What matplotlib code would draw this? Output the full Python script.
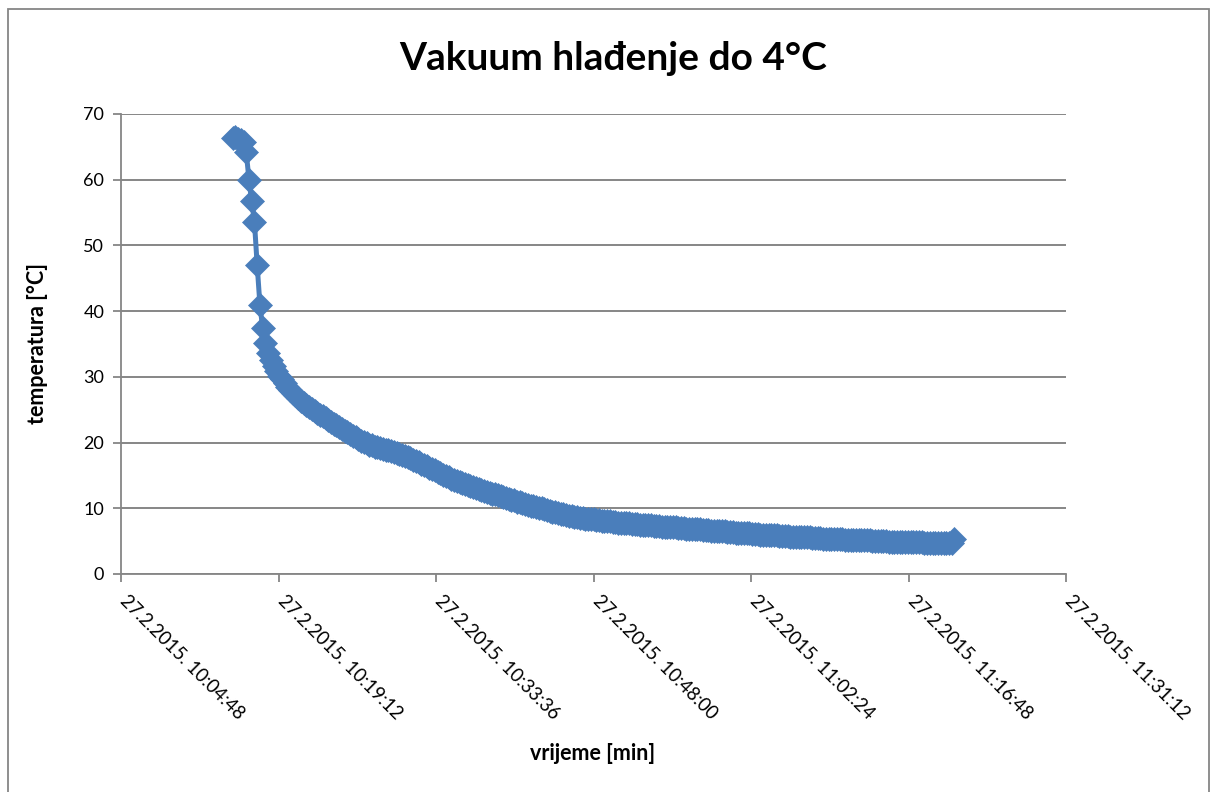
import matplotlib
matplotlib.use("Agg")
import matplotlib.pyplot as plt
import matplotlib.dates as mdates
from matplotlib.patches import Rectangle
from matplotlib.transforms import ScaledTranslation
import pandas as pd

# ---------------- data ----------------
start_time = "2015-02-27 10:15:00"
sample_interval_s = 15
temperature_c = [
    66.4, 66.5, 66.2, 66.1, 65.7, 64.2, 60.0, 56.7, 53.6, 47.0,
    41.0, 37.4, 35.2, 33.7, 32.6, 31.7, 30.9, 30.2, 29.6, 29.0,
    28.5, 28.0, 27.6, 27.2, 26.8, 26.4, 26.0, 25.7, 25.4, 25.1,
    24.8, 24.5, 24.2, 24.0, 23.7, 23.4, 23.2, 22.9, 22.6, 22.4,
    22.1, 21.8, 21.6, 21.3, 21.0, 20.8, 20.5, 20.3, 20.1, 19.9,
    19.7, 19.6, 19.4, 19.3, 19.2, 19.0, 18.9, 18.8, 18.7, 18.6,
    18.4, 18.3, 18.1, 18.0, 17.8, 17.6, 17.4, 17.2, 17.0, 16.8,
    16.6, 16.4, 16.2, 16.0, 15.8, 15.5, 15.3, 15.1, 14.9, 14.7,
    14.5, 14.3, 14.2, 14.0, 13.8, 13.7, 13.5, 13.4, 13.2, 13.1,
    12.9, 12.8, 12.6, 12.5, 12.4, 12.2, 12.1, 12.0, 11.8, 11.7,
    11.6, 11.4, 11.3, 11.2, 11.0, 10.9, 10.8, 10.6, 10.5, 10.4,
    10.3, 10.2, 10.1, 10.0, 9.9, 9.8, 9.6, 9.5, 9.4, 9.3,
    9.2, 9.1, 9.0, 8.9, 8.8, 8.7, 8.6, 8.5, 8.5, 8.4,
    8.4, 8.3, 8.3, 8.2, 8.2, 8.1, 8.1, 8.0, 8.0, 7.9,
    7.9, 7.8, 7.8, 7.8, 7.7, 7.7, 7.6, 7.6, 7.6, 7.5,
    7.5, 7.4, 7.4, 7.4, 7.3, 7.3, 7.3, 7.2, 7.2, 7.2,
    7.1, 7.1, 7.1, 7.0, 7.0, 7.0, 6.9, 6.9, 6.9, 6.8,
    6.8, 6.8, 6.7, 6.7, 6.7, 6.6, 6.6, 6.6, 6.5, 6.5,
    6.5, 6.4, 6.4, 6.4, 6.3, 6.3, 6.3, 6.2, 6.2, 6.2,
    6.1, 6.1, 6.1, 6.0, 6.0, 6.0, 6.0, 5.9, 5.9, 5.9,
    5.8, 5.8, 5.8, 5.8, 5.7, 5.7, 5.7, 5.7, 5.6, 5.6,
    5.6, 5.6, 5.5, 5.5, 5.5, 5.5, 5.4, 5.4, 5.4, 5.4,
    5.3, 5.3, 5.3, 5.3, 5.2, 5.2, 5.2, 5.2, 5.2, 5.1,
    5.1, 5.1, 5.1, 5.1, 5.0, 5.0, 5.0, 5.0, 5.0, 5.0,
    4.9, 4.9, 4.9, 4.9, 4.9, 4.9, 4.8, 4.8, 4.8, 4.8,
    4.8, 4.8, 4.8, 4.7, 4.7, 4.7, 4.7, 4.7, 4.7, 4.7,
    4.7, 4.7, 4.7, 4.7, 5.4,
]
x_tick_times = [
    "2015-02-27 10:04:48", "2015-02-27 10:19:12", "2015-02-27 10:33:36",
    "2015-02-27 10:48:00", "2015-02-27 11:02:24", "2015-02-27 11:16:48",
    "2015-02-27 11:31:12",
]
x_tick_labels = [
    "27.2.2015. 10:04:48", "27.2.2015. 10:19:12", "27.2.2015. 10:33:36",
    "27.2.2015. 10:48:00", "27.2.2015. 11:02:24", "27.2.2015. 11:16:48",
    "27.2.2015. 11:31:12",
]
y_ticks = [0, 10, 20, 30, 40, 50, 60, 70]
title = "Vakuum hlađenje do 4°C"
x_label = "vrijeme [min]"
y_label = "temperatura [°C]"

# ---------------- style ----------------
W, H = 1214, 792
FONT = ["Lato", "DejaVu Sans"]
plt.rcParams["font.family"] = FONT
blue = "#4A7EBB"
gray = "#868686"

times = pd.date_range(start=start_time, periods=len(temperature_c),
                      freq=f"{sample_interval_s}s").to_pydatetime()
tick_dt = pd.to_datetime(x_tick_times).to_pydatetime()
tick_num = mdates.date2num(tick_dt)

fig = plt.figure(figsize=(W / 100, H / 100), dpi=100)
fig.patch.set_facecolor("white")

# outer chart border
fig.patches.append(Rectangle((7.5 / W, -0.05), (1209 - 7.5) / W, 1.05 - 8.5 / H,
                             transform=fig.transFigure, fill=False,
                             edgecolor=gray, linewidth=1.3))

ax = fig.add_axes([121 / W, 1 - 574 / H, (1066 - 121) / W, (574 - 114) / H])
ax.plot(times, temperature_c, color=blue, linewidth=3.6, marker="D",
        markersize=12.5, markerfacecolor=blue, markeredgecolor=blue,
        markeredgewidth=0.5, zorder=3, clip_on=False)

ax.set_xlim(tick_num[0], tick_num[-1])
ax.set_ylim(0, 70)
ax.set_yticks(y_ticks)
ax.set_xticks(tick_num)
ax.set_xticklabels([])
# rotated date labels placed at the ticks
offset = ScaledTranslation(0.08, -0.18, fig.dpi_scale_trans)
for xv, lab in zip(tick_num, x_tick_labels):
    ax.text(xv, 0, lab, transform=ax.get_xaxis_transform() + offset,
            rotation=-45, ha="left", va="top", rotation_mode="anchor",
            fontsize=13.4, clip_on=False)
for t in ax.get_yticklabels():
    t.set_fontsize(13)

ax.yaxis.grid(True, color=gray, linewidth=1.4)
ax.xaxis.grid(False)
ax.set_axisbelow(True)
for s in ("top", "right"):
    ax.spines[s].set_visible(False)
for s in ("left", "bottom"):
    ax.spines[s].set_color(gray)
    ax.spines[s].set_linewidth(1.3)
ax.tick_params(axis="both", direction="out", color=gray, length=6, width=1.3)
ax.tick_params(axis="y", pad=6)

fig.text(613 / W, 1 - 58 / H, title, ha="center", va="center",
         fontsize=28, fontweight="bold")
fig.text(38 / W, 1 - 344 / H, y_label, ha="center", va="center",
         rotation=90, fontsize=15.5, fontweight="bold")
fig.text(593 / W, 1 - 753 / H, x_label, ha="center", va="center",
         fontsize=15.5, fontweight="bold")

fig.savefig("out.png", dpi=100, facecolor="white")
